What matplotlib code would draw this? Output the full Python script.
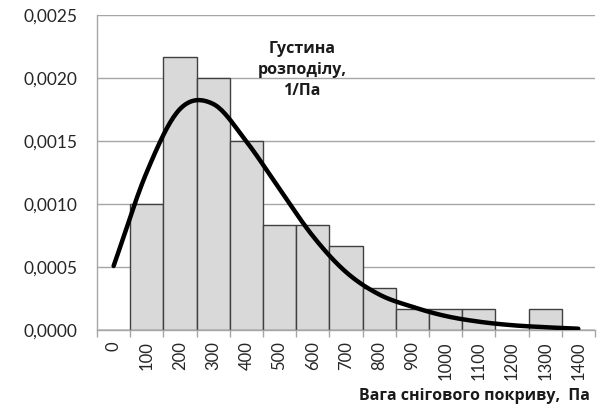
import numpy as np
import matplotlib
matplotlib.use("Agg")
import matplotlib.pyplot as plt

plt.rcParams['font.family'] = ['Lato', 'Open Sans', 'DejaVu Sans']

# categories (Pa)
categories = [0, 100, 200, 300, 400, 500, 600, 700, 800, 900, 1000, 1100, 1200, 1300, 1400]
# histogram density, 1/Pa
hist = [0, 0.0010, 0.002167, 0.0020, 0.0015, 0.000833, 0.000833, 0.000667,
        0.000333, 0.000167, 0.000167, 0.000167, 0, 0.000167, 0]
# theoretical density curve, 1/Pa
curve = [0.000508, 0.001254, 0.001754, 0.001794, 0.001496, 0.001119, 0.000746, 0.00046,
         0.000282, 0.000184, 0.000111, 0.000066, 0.000038, 0.000022, 0.00001]


def smooth(x, y, n=20):
    # catmull-rom, like excel's "smoothed line"
    x = np.asarray(x, float)
    y = np.asarray(y, float)
    px = np.concatenate([[2 * x[0] - x[1]], x, [2 * x[-1] - x[-2]]])
    py = np.concatenate([[2 * y[0] - y[1]], y, [2 * y[-1] - y[-2]]])
    xs, ys = [], []
    t = np.linspace(0, 1, n, endpoint=False)
    for i in range(1, len(px) - 2):
        for p, out in ((px, xs), (py, ys)):
            p0, p1, p2, p3 = p[i - 1], p[i], p[i + 1], p[i + 2]
            out.extend(0.5 * (2 * p1 + (-p0 + p2) * t
                              + (2 * p0 - 5 * p1 + 4 * p2 - p3) * t ** 2
                              + (-p0 + 3 * p1 - 3 * p2 + p3) * t ** 3))
    xs.append(x[-1])
    ys.append(y[-1])
    return np.array(xs), np.array(ys)


fig = plt.figure(figsize=(5.97, 4.09), dpi=100)
ax = fig.add_axes([0.1625, 0.1932, 0.834, 0.7701])

pos = np.arange(len(categories))
ax.bar(pos, hist, width=1.0, color='#d9d9d9', edgecolor='#404040', linewidth=1.0, zorder=2)

sx, sy = smooth(pos, curve)
ax.plot(sx, sy, color='black', linewidth=3.2, solid_capstyle='round', zorder=3)

ax.set_xlim(-0.5, len(categories) - 0.5)
ax.set_ylim(0, 0.0025)
yt = np.arange(0, 0.00251, 0.0005)
ax.set_yticks(yt)
ax.set_yticklabels([('%.4f' % v).replace('.', ',') for v in yt], fontsize=12.5, color='#262626')
ax.grid(axis='y', color='#a6a6a6', linewidth=1.0, zorder=0)
ax.set_axisbelow(True)

ax.set_xticks(pos)
ax.set_xticklabels([str(c) for c in categories], rotation=90, fontsize=12, color='#262626')
ax.set_xticks(np.arange(-0.5, len(categories)), minor=True)
ax.tick_params(axis='x', which='major', length=0, pad=8)
ax.tick_params(axis='x', which='minor', length=5, color='#a6a6a6', width=1.0)
ax.tick_params(axis='y', length=0, pad=14)

for s in ['top', 'right']:
    ax.spines[s].set_visible(False)
for s in ['left', 'bottom']:
    ax.spines[s].set_color('#a6a6a6')
    ax.spines[s].set_linewidth(1.0)

ax.text(5.68, 0.002063, 'Густина\nрозподілу,\n1/Па', ha='center', va='center',
        fontsize=11.5, fontweight='bold', color='#1a1a1a', linespacing=1.42, zorder=4,
        family=['Open Sans', 'DejaVu Sans'])

fig.text(0.988, 0.012, 'Вага снігового покриву,  Па', ha='right', va='bottom',
         fontsize=11.5, fontweight='bold', color='#1a1a1a', family=['Open Sans', 'DejaVu Sans'])

fig.savefig('out.png', dpi=100)
